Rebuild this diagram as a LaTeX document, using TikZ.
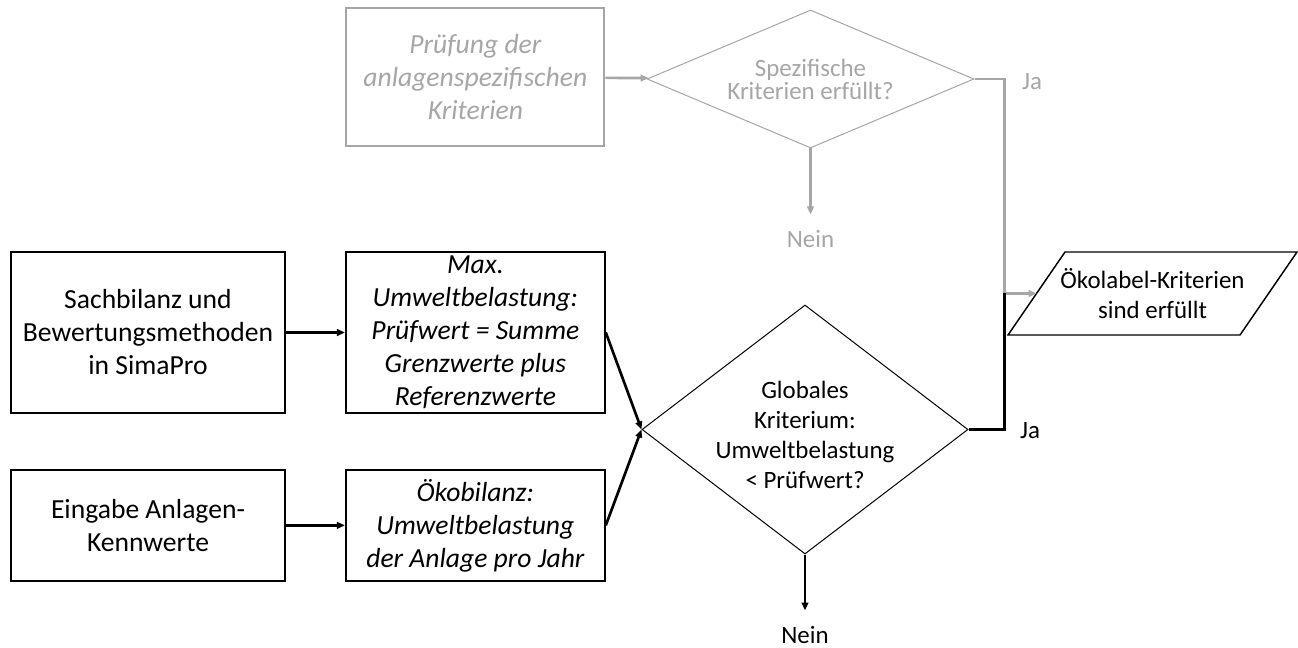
\documentclass[tikz,border=0pt]{standalone}
\usepackage{fontspec}
\setmainfont{Carlito}
\usepackage{xcolor}
\usetikzlibrary{positioning, shapes.geometric, arrows.meta}
\definecolor{grau}{RGB}{166,166,166}

\tikzset{
  kasten/.style={draw, rectangle, line width=1.4pt, align=center, inner sep=1pt,
    font=\fontsize{20.7}{24.75}\selectfont},
  ikasten/.style={kasten, font=\fontsize{20.7}{24.75}\selectfont\itshape},
  raute/.style={draw, diamond, line width=0.75pt, inner sep=0pt},
  pfeil/.style={-{Triangle[length=6pt,width=5pt]}, line width=2pt},
  yn/.style={font=\fontsize{18.7}{22.5}\selectfont, inner sep=0pt, align=center},
}

\begin{document}
\begin{tikzpicture}[x=0.75pt, y=-0.75pt]
  \useasboundingbox (0,0) rectangle (1298,648);
  % Eingaben
  \node[kasten, minimum width=205.5pt, minimum height=120.75pt]
    (sach) at (148,332.5) {Sachbilanz und\\Bewertungsmethoden\\in SimaPro};
  \node[kasten, minimum width=205.5pt, minimum height=83.25pt, below=41.25pt of sach]
    (eingabe) {Eingabe Anlagen-\\Kennwerte};
  \node[ikasten, minimum width=194.25pt, minimum height=120.75pt, right=44.25pt of sach]
    (maxbel) {Max.\\Umweltbelastung:\\Prüfwert = Summe\\Grenzwerte plus\\Referenzwerte};
  \node[ikasten, minimum width=194.25pt, minimum height=83.25pt, below=41.25pt of maxbel]
    (oekobil) {Ökobilanz:\\Umweltbelastung\\der Anlage pro Jahr};
  \node[ikasten, grau, minimum width=193.5pt, minimum height=103.5pt, above=78pt of maxbel]
    (pruef) {Prüfung der\\anlagenspezifischen\\Kriterien};
  % Entscheidungen
  \node[raute, grau, minimum width=245.25pt, minimum height=103.5pt]
    (spez) at (810.5,79) {};
  \node[yn, grau, font=\fontsize{18.7}{17.25}\selectfont] (speztext) at (spez)
    {Spezifische\\Kriterien erfüllt?};
  \node[raute, minimum width=244.5pt, minimum height=186.75pt]
    (glob) at (805,429.5) {};
  \node[yn] (globtext) at ([yshift=-4pt]glob.center)
    {Globales\\Kriterium:\\Umweltbelastung\\< Prüfwert?};
  % Ergebnis (Parallelogramm)
  \node[yn, minimum width=173.25pt, minimum height=62.25pt]
    (label) at (1152.5,293.5) {Ökolabel-Kriterien\\sind erfüllt};
  \draw[line width=1.1pt] ([shift={(-144.5,41.5)}]label.center) -- ++(232,0)
    -- ++(57,-83) -- ++(-232,0) -- cycle;
  % Ja / Nein
  \node[yn, grau] (jaspez) at (1032,82) {Ja};
  \node[yn] (jaglob) at (1030,431) {Ja};
  \node[yn, grau, below=61.5pt of spez] (neinspez) {Nein};
  \node[yn, below=54pt of glob] (neinglob) {Nein};
  % Verbindungen
  \draw[pfeil] (sach) -- (maxbel);
  \draw[pfeil] (eingabe) -- (oekobil);
  \draw[pfeil] (maxbel.east) -- (glob.west);
  \draw[pfeil] (oekobil.east) -- (glob.west);
  \draw[pfeil, grau] (pruef) -- (spez);
  \draw[pfeil, grau, shorten >=12pt] (spez.south) -- (neinspez.north);
  \draw[pfeil, grau] (spez.east) -- ++(30,0) |- (label.west);
  \draw[line width=2pt] (glob.east) -- ++(36,0) coordinate (jaknick)
    -- (jaknick |- label.west);
  \draw[pfeil, shorten >=12pt] (glob.south) -- (neinglob.north);
\end{tikzpicture}
\end{document}
